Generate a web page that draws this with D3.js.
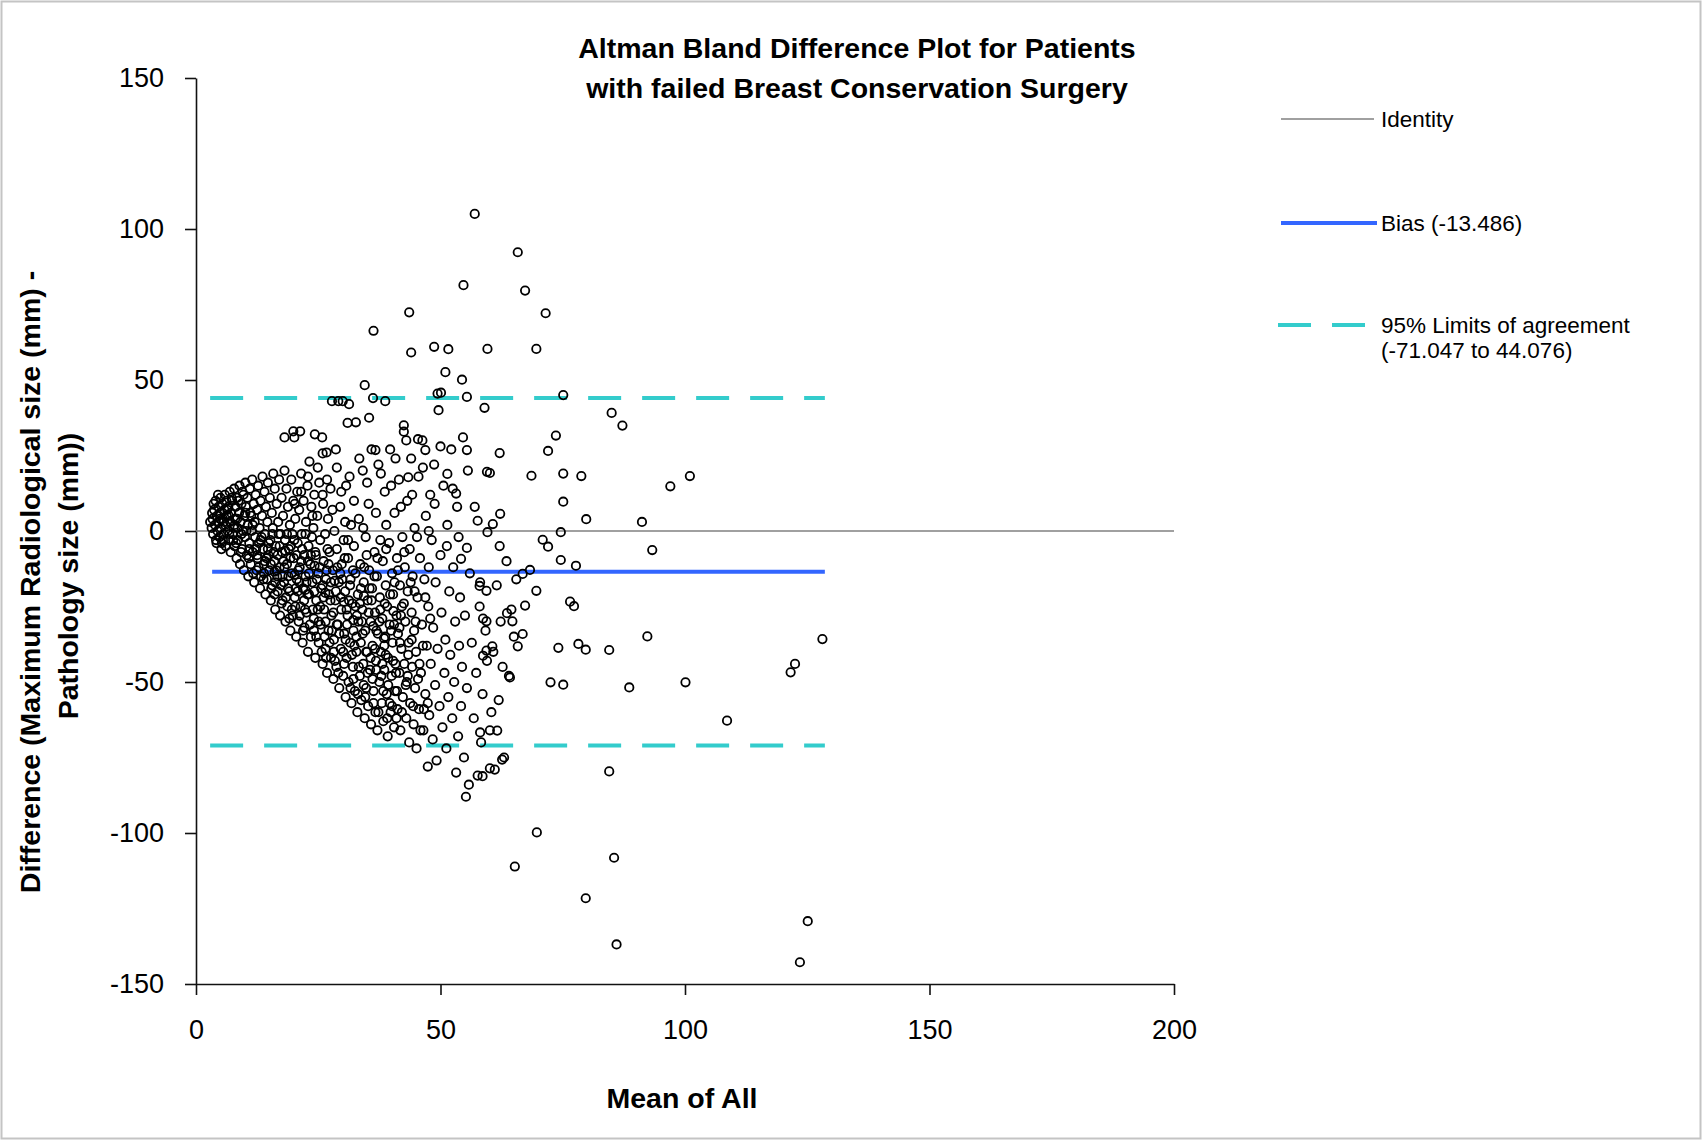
<!DOCTYPE html>
<html>
<head>
<meta charset="utf-8">
<script src="https://cdn.jsdelivr.net/npm/d3@7"></script>
<style>
    body { margin: 0; background: #fff; }
    text { font-family: "Liberation Sans", Arial, sans-serif; }
</style>
</head>
<body>
<div id="chart"></div>
<script>
// axis ticks
const xTicks = [0, 50, 100, 150, 200];
const yTicks = [-150, -100, -50, 0, 50, 100, 150];

// summary lines
const bias = -13.486;
const limitLow = -71.047;
const limitHigh = 44.076;
const meanRange = [3.3, 128.6];   // min / max of the means

const legendLabels = ["Identity", "Bias (-13.486)", "95% Limits of agreement", "(-71.047 to 44.076)"];

// [mean, difference], dense part first
const clusterPoints = [
    [3.2,1],[3.4,4],[3.5,-1],[3.7,7],[3.9,2],[4,10],[4.1,-3],[4.3,5],[4.4,0],[4.6,8],[4.7,3],[4.8,-2],
    [5,11],[5,6],[5.1,1],[5.3,-4],[5.4,9],[5.5,4],[5.6,-1],[5.8,7],[5.9,12],[6,2],[6.1,-5],[6.2,10],
    [6.3,5],[6.5,0],[6.6,8],[6.7,-3],[6.9,13],[7,3],[7.1,-7],[7.2,6],[7.4,10],[7.5,-1],[7.7,1],
    [7.8,14],[7.9,-5],[8,4],[8.1,8],[8.3,-9],[8.4,11],[8.5,1],[8.6,-3],[8.8,6],[8.9,15],[9,-11],[9.1,3],
    [9.3,9],[9.4,-6],[9.5,13],[9.6,0],[9.8,-13],[9.9,5],[10,-2],[10.1,16],[10.2,8],[10.4,-8],[10.5,11],
    [10.6,2],[10.7,-15],[10.9,-4],[11,14],[11.1,6],[11.2,-11],[11.4,0],[11.5,17],[11.6,-7],[11.8,9],
    [11.9,-17],[12,3],[12.1,-2],[12.2,12],[12.4,-13],[12.5,7],[12.6,-9],[12.7,15],[12.9,-4],[13,1],
    [13.1,-19],[13.2,10],[13.3,-15],[13.5,5],[13.6,18],[13.7,-6],[13.9,-11],
    [14,13],[14.1,-1],[14.2,-21],[14.3,8],[14.5,-16],[14.6,3],[14.7,16],[14.8,-8],[15,-13],[15.1,11],
    [15.2,-3],[15.3,-23],[15.5,6],[15.6,-18],[15.7,1],[15.8,19],[16,-10],[16.1,14],[16.2,-26],[16.3,-5],
    [16.5,9],[16.6,-15],[16.7,-20],[16.8,3],[17,17],[17.1,-12],[17.2,-28],[17.3,-1],[17.5,11],[17.6,-7],
    [17.7,-23],[17.8,5],[18,-17],[18.1,20],[18.2,-3],[18.3,-30],[18.5,14],[18.6,-11],[18.7,-25],[18.8,8],
    [19,-6],[19.1,-20],[19.2,2],[19.3,-33],[19.5,17],[19.6,-14],[19.7,-1],[19.8,-28],[19.9,10],[20,-9],
    [20.1,31],[20.2,-22],[20.3,4],[20.5,-35],[20.6,-16],[20.7,13],[20.8,-4],[21,-30],[21.1,7],[21.2,-12],
    [21.3,33],[21.4,-25],[21.5,19],[21.6,-1],[21.8,-37],[21.9,-19],[22,10],[22.1,-8],[22.2,-32],[22.4,-15],
    [22.5,3],[22.6,-27],[22.8,15],[22.9,-40],[23,-5],[23.1,-21],[23.2,23],[23.4,-11],[23.5,-35],[23.6,8],
    [23.8,-17],[24,1],[24.1,-29],[24.2,12],[24.4,-42],[24.5,-8],[24.6,-23],[24.8,5],[25,-14],[25.1,-37],
    [25.2,16],[25.4,-3],[25.5,-31],[25.6,-19],[25.8,31],[25.9,-44],[26,9],[26.1,-10],[26.2,-26],[26.4,-1],
    [26.5,-39],[26.6,-16],[26.7,26],[26.8,-47],[27,4],[27.1,-33],[27.2,-21],[27.3,-7],[27.5,14],[27.6,-42],
    [27.7,-28],[27.8,43],[28,-13],[28.1,-49],[28.2,-36],[28.3,0],[28.5,-23],[28.6,27],[28.7,-45],[28.8,-6],
    [29,-31],[29.1,43],[29.2,-17],[29.3,-52],[29.5,8],[29.6,-39],[29.7,-26],[29.8,-11],[30,43],[30.1,-48],
    [30.2,-3],[30.3,-34],[30.5,-20],[30.6,-55],[30.7,15],[30.8,-42],[31,-28],[31.1,-9],[31.2,-50],[31.3,42],
    [31.5,-37],[31.6,-16],[31.7,2],[31.8,-57],[32,-24],[32.1,-45],[32.2,-33],[32.3,-5],[32.5,-53],[32.6,-14],
    [32.7,36],[32.8,-40],[33,-60],[33.1,-21],[33.2,-30],[33.3,4],[33.5,-48],[33.6,-11],[33.7,-37],[33.8,-56],
    [34,-26],[34.1,20],[34.2,-44],[34.3,-17],[34.5,-62],[34.6,-33],[34.7,-2],[34.8,-52],[35,-40],[35.1,-23],
    [35.2,-58],[35.3,9],[35.4,-13],[35.6,-46],[35.7,-30],[35.8,-64],[36,-19],[36.1,-38],[36.2,44],[36.3,-53],
    [36.5,-7],[36.6,-27],[36.7,-60],[36.8,-43],[37,-15],[37.1,-66],[37.2,-34],[37.3,22],[37.5,-50],[37.6,-22],
    [37.7,-3],[37.8,-40],[38,-57],[38.1,-29],[38.2,-10],[38.3,-63],[38.5,-46],[38.6,13],[38.7,-35],[38.8,-18],
    [39,-54],[39.1,-25],[39.2,-68],[39.3,-42],[39.5,-4],[39.6,-31],[39.7,27],[39.8,-60],[40,-48],[40.1,-14],
    [40.2,-37],[40.3,-21],[40.5,-65],[40.6,6],[40.7,-53],[40.8,-44],[41,-28],[41.1,-9],[41.2,-59],[41.3,-34],
    [41.5,17],[41.6,-47],[41.7,-18],[41.8,-66],[42,-39],[42.1,-25],[42.2,-2],[42.3,-55],[42.5,35],[42.6,-44],
    [42.7,-12],[42.8,-30],[43,-62],[43.1,-50],[43.2,10],[43.3,-20],[43.5,-37],[43.6,-70],[43.7,-6],[43.8,-57],
    [44,24],[44.1,-27],[44.2,-45],[44.3,-15],[44.5,-64],[44.6,-33],[44.7,1],[44.8,-52],
    [45,-40],[45.1,-72],[45.3,-22],[45.5,18],[45.6,-59],[45.8,-9],[46,-47],[46.2,-31],[46.3,30],[46.5,-66],
    [46.7,-16],[46.9,-54],[47,5],[47.2,-38],[47.4,-78],[47.5,-25],[47.7,-61],[47.9,12],[48,-44],[48.2,-3],
    [48.4,-69],[48.5,-32],[48.7,22],[48.9,-51],[49,-17],[49.2,-76],[49.4,-39],[49.6,40],[49.8,-58],[50,-8],
    [50.2,-27],[50.4,-65],[50.6,15],[50.8,-47],[51,-36],[51.2,-72],[51.4,2],[51.6,-55],[51.8,-20],[52,-41],
    [52.2,27],[52.4,-62],[52.6,-12],[52.8,-50],[53,-30],[53.2,-80],[53.4,8],[53.6,-68],[53.8,-38],[54,-22],
    [54.2,-58],[54.4,-45],[54.6,31],[54.8,-75],[55,-28],[55.2,-88],[55.4,-52],[55.6,20],[55.8,-84],[56,-14],
    [56.4,-37],[56.8,-62],[57,8],[57.3,-47],[57.6,-81],[58,-25],[58.3,-70],[58.6,-54],[59.2,-33],[59.5,-43],
    [60.1,-66],[60.4,-60],[60.8,-40],[61.1,-79],[61.5,-18],[61.9,-56],[62.3,-30],[62.7,-45],[63,-75],
    [63.5,-10],[64,-48],[64.5,-26],[65,-35],[65.5,-16]
];

// further passes over the black band and the left blob, where circles pile up
const densePoints = [
    [2.9,3],[3.3,6],[3.6,9],[4.2,-4],[4.5,12],[4.9,4],[5.2,-6],[5.7,3],[6.4,7],[6.8,-1],[7.3,11],
    [7.9,2],[8.2,-4],[8.7,10],[9.2,-7],[9.7,12],[10.3,0],[10.8,-9],[11.3,5],[11.7,-14],
    [12.3,-6],[12.8,-12],[13.4,-2],[13.8,-16],[14.4,-9],[14.9,-4],[15.4,-19],[15.9,-7],[16.4,-13],
    [16.9,-1],[17.4,-18],[17.9,-10],[18.4,-22],[18.9,-15],[19.3,-9],[19.6,-26],[20.1,-3],[20.4,-19],
    [20.9,-13],[21.2,-28],[21.7,-6],[22.1,-23],[22.6,-17],[22.9,-10],[23.3,-31],[23.7,-2],[24.2,-20],
    [24.6,-35],[24.9,-26],[25.3,-12],[25.7,-40],[26.1,-22],[26.5,-30],[26.9,-6],[27.3,-37],[27.6,-17],
    [28.1,-27],[28.4,-43],[28.9,-12],[29.3,-34],[29.6,-22],[30.1,-40],[30.4,-9],[30.9,-31],[31.3,-23],
    [31.6,-52],[32.1,-13],[32.4,-38],[32.9,-28],[33.3,-45],[33.7,-19],[34.1,-34],[34.6,-55],[34.9,-8],
    [35.3,-27],[35.7,-42],[36.1,-49],[36.5,-15],[36.9,-33],[37.3,-60],[37.7,-26],[38.1,-44],[38.5,-38],
    [38.9,-6],[39.3,-51],[39.7,-21],[40.1,-58],[40.5,-31],[40.9,-47],[41.3,-13],[41.7,-37],[42.1,-60],
    [42.5,-24],[42.9,-51],[43.4,-41],[43.9,-17],[44.4,-58],[44.9,-30],[45.4,-49],[45.9,-66],[46.4,-38],
    [46.9,-22],[47.4,-57],[47.9,-29],
    [14.1,-10],[15.6,-1],[16.1,-21],[17.1,-5],[17.7,-15],[18.6,-1],[19.1,-29],[20.6,-8],[21.1,-17],
    [21.9,-33],[22.4,-1],[23.1,-14],[23.9,-26],[24.4,-7],[25.1,-30],[25.9,-18],[26.6,-42],[27.1,-11],
    [27.8,-33],[28.6,-20],[29.1,-47],[29.9,-16],[30.6,-36],[31.1,-3],[31.9,-41],[32.6,-25],[33.1,-54],
    [33.9,-30],[34.4,-12],[35.1,-47],[35.9,-23],[36.6,-39],[37.1,-9],[37.9,-48],[38.6,-24],[39.1,-62],
    [39.9,-33],[40.6,-17],[41.1,-53],[41.9,-28],[42.6,-7],[43.3,-48],[44.1,-36],[44.7,-20],[45.7,-44],
    [46.6,-59],[47.6,-12],
    [5.5,-3],[6.7,5],[7.6,-3],[8.4,4],[9.3,-1],[10.1,6],[10.9,-6],[11.6,2],[12.5,-8],[13.2,-3],
    [13.9,-14],[14.7,-6],[15.3,-11],[16.2,-17],[16.7,-8],[17.5,-24],[18.1,-12],[18.8,-19],[19.4,-5],
    [20.3,-25],[20.8,-20],[21.5,-10],[22.3,-26],[22.8,-21],[23.5,-8],[24.1,-33],[24.7,-16],[25.4,-25],
    [26.3,-35],[26.7,-13],[27.5,-23],[28.2,-40],[28.8,-31],[29.5,-14],[30.3,-44],[30.8,-26],[31.5,-18],
    [32.2,-49],[32.8,-35],[33.5,-24],[34.3,-51],[34.8,-40],[35.5,-19],[36.3,-57],[36.9,-46],[37.5,-30],
    [38.3,-53],[38.8,-41],[39.6,-57],[40.3,-43],[41,-62],[41.6,-32],
    [16.05,-13.5],[18.25,-6.5],[20.15,-14.5],[22.35,-19.5],[24.25,-11.5],[26.45,-20.5],[28.35,-16.5],
    [30.25,-23.5],[32.15,-29.5],[34.35,-21.5],[36.25,-31.5],[38.45,-35.5],[40.35,-26.5],
    [20.2,9],[21.5,13],[22.9,18],[23.8,5],[24.9,21],[25.9,12],[26.8,17],[27.9,7],[28.8,21],[29.7,13],
    [30.5,3],[31.4,18],[32.3,10],[33.4,24],[34.2,1],[35,16],[35.9,27],[36.8,6],[37.8,19],[38.9,2],
    [39.9,15],[40.8,24],[41.9,8],[43,30],[44.2,12],[45.2,-2],[46.4,21],[47.6,0],[48.8,9],[50,28],
    [51.3,-5],[52.5,14],[53.7,-2]
];

// scattered upper points and outliers
const outlierPoints = [
    [57,105],[54.7,81.4],[43.6,72.4],[36.3,66.3],[44,59.1],[48.7,61],[51.6,60.2],[51,52.6],[54.4,50.1],
    [49.4,45.5],[55.4,44.4],[34.5,48.3],[38.7,43],[35.4,37.5],[31,35.8],[24.3,32],[19.9,33],[18.1,31],
    [25.9,25.7],[36.7,26.8],[42.5,32.9],[45.4,30.4],[46.9,26.8],[43.4,17.8],[50.1,45.8],[51.4,18.9],
    [53.2,12.4],[55.4,26.8],[57.6,3.4],[55.4,-5.6],[54.2,-9.2],[58,-18.2],[58.7,-29],
    [65.8,92.3],[67.3,79.6],[71.5,72.1],[59.6,60.3],[69.6,60.3],[75.1,45.0],[59.0,40.8],[85.0,39.1],
    [87.2,34.9],[73.6,31.6],[62.1,25.8],[72.0,26.5],[59.5,19.6],[60.1,19.2],[68.6,18.3],[75.1,19.0],
    [78.8,18.2],[97,14.8],[101,18.2],[75.1,9.7],[62.2,5.7],[60.7,2.3],[59.6,-0.4],[79.8,3.9],[91.2,3.0],
    [74.6,-0.4],[62.1,-5],[70.9,-2.9],[72.0,-5.2],[93.3,-6.3],[74.6,-9.6],[77.7,-11.5],[66.8,-14.2],
    [68.3,-12.9],[58.1,-17],[59.4,-19.8],[69.6,-19.8],[67.3,-24.7],[76.5,-23.4],[77.3,-24.9],[59.4,-29.9],
    [63.6,-27.2],[64.7,-29.9],[66.8,-34.1],[65.8,-38.2],[60.6,-38.2],[58.7,-41.3],[59.4,-39.6],[74.1,-38.7],
    [78.2,-37.4],[79.7,-39.3],[84.5,-39.4],[92.3,-34.9],[128.1,-35.8],[122.5,-44.0],[121.6,-46.8],
    [64.2,-48.5],[72.5,-50.1],[75.1,-50.9],[88.6,-51.8],[100.1,-50.1],[108.6,-62.8],[58.1,-66.7],
    [61.6,-66.1],[62.6,-75.7],[60.1,-78.6],[58.6,-81.2],[84.5,-79.6],[69.7,-99.8],[65.2,-111.1],
    [85.5,-108.2],[79.7,-121.6],[86,-136.9],[125.1,-129.2],[123.5,-142.8]
];

const width = 1702;
const height = 1140;
const plot = { left: 196, right: 1174, top: 78, bottom: 984 };

const svg = d3.select("#chart")
    .append("svg")
    .attr("width", width)
    .attr("height", height);

svg.append("rect")
    .attr("x", 1.5).attr("y", 1.5)
    .attr("width", width - 3).attr("height", height - 3)
    .attr("fill", "white")
    .attr("stroke", "#c4c4c4")
    .attr("stroke-width", 2);

const x = d3.scaleLinear().domain([0, 200]).range([plot.left, plot.right]);
const y = d3.scaleLinear().domain([-150, 150]).range([plot.bottom, plot.top]);

// axes (plain hyphen minus, like the original)
const fmt = d => String(d);
const xAxis = svg.append("g")
    .attr("transform", `translate(0,${plot.bottom})`)
    .call(d3.axisBottom(x).tickValues(xTicks).tickFormat(fmt).tickSize(11).tickSizeOuter(0).tickPadding(25));
const yAxis = svg.append("g")
    .attr("transform", `translate(${plot.left},0)`)
    .call(d3.axisLeft(y).tickValues(yTicks).tickFormat(fmt).tickSize(11).tickSizeOuter(0).tickPadding(21));

[xAxis, yAxis].forEach(g => {
    g.select(".domain").attr("stroke", "#111").attr("stroke-width", 1.6);
    g.selectAll(".tick line").attr("stroke", "#111").attr("stroke-width", 1.6);
    g.selectAll(".tick text")
        .attr("fill", "#000")
        .style("font-size", "27px")
        .style("font-family", "'Liberation Sans', Arial, sans-serif");
});

// reference lines
const lines = svg.append("g");
lines.append("line")
    .attr("x1", x(0)).attr("x2", x(200))
    .attr("y1", y(0)).attr("y2", y(0))
    .attr("stroke", "#808080").attr("stroke-width", 1.5);

lines.append("line")
    .attr("x1", x(meanRange[0])).attr("x2", x(meanRange[1]))
    .attr("y1", y(bias)).attr("y2", y(bias))
    .attr("stroke", "#3366ff").attr("stroke-width", 4);

[limitHigh, limitLow].forEach(v => {
    lines.append("line")
        .attr("x1", x(meanRange[0]) - 2).attr("x2", x(meanRange[1]))
        .attr("y1", y(v)).attr("y2", y(v))
        .attr("stroke", "#33cccc").attr("stroke-width", 4)
        .attr("stroke-dasharray", "33,21");
});

// points
svg.append("g")
    .selectAll("circle")
    .data(clusterPoints.concat(densePoints, outlierPoints))
    .join("circle")
    .attr("cx", d => x(d[0]))
    .attr("cy", d => y(d[1]))
    .attr("r", 4.2)
    .attr("fill", "none")
    .attr("stroke", "#000")
    .attr("stroke-width", 1.8);

// titles
const title = svg.append("text")
    .attr("text-anchor", "middle")
    .style("font-size", "28.5px")
    .style("font-weight", "bold");
title.append("tspan").attr("x", 857).attr("y", 58).text("Altman Bland Difference Plot for Patients");
title.append("tspan").attr("x", 857).attr("y", 98).text("with failed Breast Conservation Surgery");

svg.append("text")
    .attr("x", 682).attr("y", 1108)
    .attr("text-anchor", "middle")
    .style("font-size", "28.5px")
    .style("font-weight", "bold")
    .text("Mean of All");

const yTitle = svg.append("text")
    .attr("transform", "rotate(-90)")
    .attr("text-anchor", "middle")
    .style("font-size", "28.5px")
    .style("font-weight", "bold");
yTitle.append("tspan").attr("x", -582).attr("y", 40).text("Difference (Maximum Radiological size (mm) -");
yTitle.append("tspan").attr("x", -576).attr("y", 78).text("Pathology size (mm))");

// legend
const legend = svg.append("g");
legend.append("line")
    .attr("x1", 1281).attr("x2", 1374).attr("y1", 119).attr("y2", 119)
    .attr("stroke", "#808080").attr("stroke-width", 1.5);
legend.append("line")
    .attr("x1", 1281).attr("x2", 1377).attr("y1", 223).attr("y2", 223)
    .attr("stroke", "#3366ff").attr("stroke-width", 4);
legend.append("line")
    .attr("x1", 1278).attr("x2", 1367).attr("y1", 325).attr("y2", 325)
    .attr("stroke", "#33cccc").attr("stroke-width", 4)
    .attr("stroke-dasharray", "33,21");

const legendY = [119, 223, 325, 350];
legend.selectAll("text")
    .data(legendLabels)
    .join("text")
    .attr("x", 1381)
    .attr("y", (d, i) => legendY[i])
    .attr("dominant-baseline", "central")
    .style("font-size", "22.5px")
    .text(d => d);
</script>
</body>
</html>
